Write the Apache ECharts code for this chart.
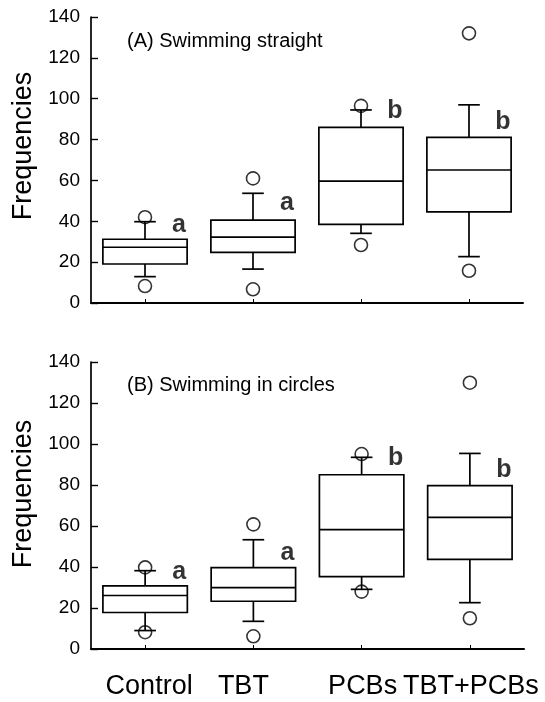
<!DOCTYPE html>
<html>
<head>
<meta charset="utf-8">
<script src="https://cdn.jsdelivr.net/npm/echarts@6/dist/echarts.min.js"></script>
<style>
html,body{margin:0;padding:0;background:#fff;}
#chart{width:545px;height:702px;}
</style>
</head>
<body>
<div id="chart"></div>
<script>
// ---- data ----
var categories = ['Control', 'TBT', 'PCBs', 'TBT+PCBs'];
var yTicks = [0, 20, 40, 60, 80, 100, 120, 140];
// [lower whisker, Q1, median, Q3, upper whisker]
var straightStats = [
  [12.9, 19.1, 27.3, 31.2, 39.8],
  [16.6, 24.8, 32.2, 40.6, 53.7],
  [34.1, 38.5, 59.7, 86.0, 94.5],
  [22.7, 44.6, 65.1, 81.1, 97.0]
];
var straightOutliers = [[0, 42.0], [0, 8.3], [1, 61.0], [1, 6.7], [2, 96.5], [2, 28.4], [3, 132.0], [3, 15.8]];
var circlesStats = [
  [9.0, 17.8, 26.1, 30.8, 38.2],
  [13.5, 23.3, 29.9, 39.7, 53.3],
  [29.1, 35.3, 58.2, 85.0, 93.5],
  [22.6, 43.7, 64.2, 79.7, 95.4]
];
var circlesOutliers = [[0, 39.8], [0, 8.2], [1, 60.8], [1, 6.2], [2, 95.1], [2, 28.0], [3, 129.9], [3, 15.0]];
var sigLetters = ['a', 'a', 'b', 'b'];
var straightLetterY = [38.2, 48.8, 93.7, 88.5];
var circlesLetterY = [37.7, 46.7, 93.1, 87.4];
var panelTitles = ['(A) Swimming straight', '(B) Swimming in circles'];
var yAxisTitle = 'Frequencies';

// ---- chart ----
var FONT = '"Liberation Sans", Arial, sans-serif';
var chart = echarts.init(document.getElementById('chart'), null, {renderer: 'canvas'});

function boxData(stats) {
  return stats.map(function (s, i) { return [i].concat(s); });
}
function renderBox(params, api) {
  var cat = api.value(0);
  var lo = api.coord([cat, api.value(1)]);
  var q1 = api.coord([cat, api.value(2)]);
  var med = api.coord([cat, api.value(3)]);
  var q3 = api.coord([cat, api.value(4)]);
  var hi = api.coord([cat, api.value(5)]);
  var band = api.size([1, 0])[0];
  var bw = band * 0.78, cw = band * 0.2;
  var x = lo[0];
  var st = {stroke: '#000', lineWidth: 1.7, fill: null};
  function ln(x1, y1, x2, y2) { return {type: 'line', shape: {x1: x1, y1: y1, x2: x2, y2: y2}, style: st}; }
  return {
    type: 'group',
    children: [
      {type: 'rect', shape: {x: x - bw / 2, y: q3[1], width: bw, height: q1[1] - q3[1]}, style: {stroke: '#000', lineWidth: 1.7, fill: 'none'}},
      ln(x - bw / 2, med[1], x + bw / 2, med[1]),
      ln(x, q3[1], x, hi[1]),
      ln(x - cw / 2, hi[1], x + cw / 2, hi[1]),
      ln(x, q1[1], x, lo[1]),
      ln(x - cw / 2, lo[1], x + cw / 2, lo[1])
    ]
  };
}

var labelRich = {
  c0: {fontSize: 27, fontFamily: FONT, color: '#000', padding: [0, 0, 0, 8]},
  c1: {fontSize: 27, fontFamily: FONT, color: '#000', padding: [0, 20, 0, 0]},
  c2: {fontSize: 27, fontFamily: FONT, color: '#000', padding: [0, 0, 0, 2]},
  c3: {fontSize: 27, fontFamily: FONT, color: '#000', padding: [0, 0, 0, 2]}
};

function xAxisCfg(idx, showLabels) {
  return {
    type: 'category', gridIndex: idx, data: categories, boundaryGap: true,
    axisLine: {lineStyle: {color: '#000', width: 2}},
    axisTick: {show: true, inside: true, alignWithLabel: true, length: 4, lineStyle: {color: '#000', width: 1}},
    axisLabel: {show: showLabels, interval: 0, color: '#000', fontSize: 27, fontFamily: FONT, margin: 24,
      formatter: function (v) { return '{c' + categories.indexOf(v) + '|' + v + '}'; }, rich: labelRich},
    splitLine: {show: false}
  };
}
function yAxisCfg(idx) {
  return {
    type: 'value', gridIndex: idx, min: 0, max: 140, interval: 20,
    axisLine: {show: true, lineStyle: {color: '#000', width: 1.7}},
    axisTick: {show: true, inside: true, length: 7, lineStyle: {color: '#000', width: 1.4}},
    axisLabel: {color: '#000', fontSize: 19, fontFamily: FONT, margin: 11,
      formatter: function (v) { return yTicks.indexOf(v) >= 0 ? String(v) : ''; }},
    splitLine: {show: false}
  };
}
function boxSeries(idx, stats) {
  return {type: 'custom', xAxisIndex: idx, yAxisIndex: idx, renderItem: renderBox,
    encode: {x: 0, y: [1, 2, 3, 4, 5]}, data: boxData(stats), z: 2};
}
function outlierSeries(idx, pts) {
  return {type: 'scatter', xAxisIndex: idx, yAxisIndex: idx, data: pts, symbol: 'circle', symbolSize: 13,
    itemStyle: {color: 'transparent', borderColor: '#000', borderWidth: 1.6}, z: 3};
}
function letterSeries(idx, ys) {
  return {type: 'scatter', xAxisIndex: idx, yAxisIndex: idx,
    data: ys.map(function (y, i) { return [i, y]; }), symbolSize: 1,
    itemStyle: {color: 'transparent'},
    label: {show: true, position: 'inside', offset: [34, 0], color: '#000', fontSize: 25, fontWeight: 'bold', fontFamily: FONT,
      formatter: function (p) { return sigLetters[p.dataIndex]; }}, z: 4};
}

var option = {
  backgroundColor: '#fff',
  animation: false,
  grid: [
    {left: 91, top: 17, width: 432, height: 286},
    {left: 91, top: 362, width: 433, height: 287}
  ],
  xAxis: [xAxisCfg(0, false), xAxisCfg(1, true)],
  yAxis: [yAxisCfg(0), yAxisCfg(1)],
  series: [
    boxSeries(0, straightStats), outlierSeries(0, straightOutliers), letterSeries(0, straightLetterY),
    boxSeries(1, circlesStats), outlierSeries(1, circlesOutliers), letterSeries(1, circlesLetterY)
  ],
  graphic: [
    {type: 'text', left: 127, top: 31, style: {text: panelTitles[0], font: '20px ' + FONT, fill: '#000'}},
    {type: 'text', left: 127, top: 375, style: {text: panelTitles[1], font: '20px ' + FONT, fill: '#000'}},
    {type: 'text', x: 24, y: 146, rotation: Math.PI / 2,
      style: {text: yAxisTitle, font: '27px ' + FONT, fill: '#000', textAlign: 'center', textVerticalAlign: 'middle'}},
    {type: 'text', x: 24, y: 494, rotation: Math.PI / 2,
      style: {text: yAxisTitle, font: '27px ' + FONT, fill: '#000', textAlign: 'center', textVerticalAlign: 'middle'}}
  ]
};
chart.setOption(option);
</script>
</body>
</html>
